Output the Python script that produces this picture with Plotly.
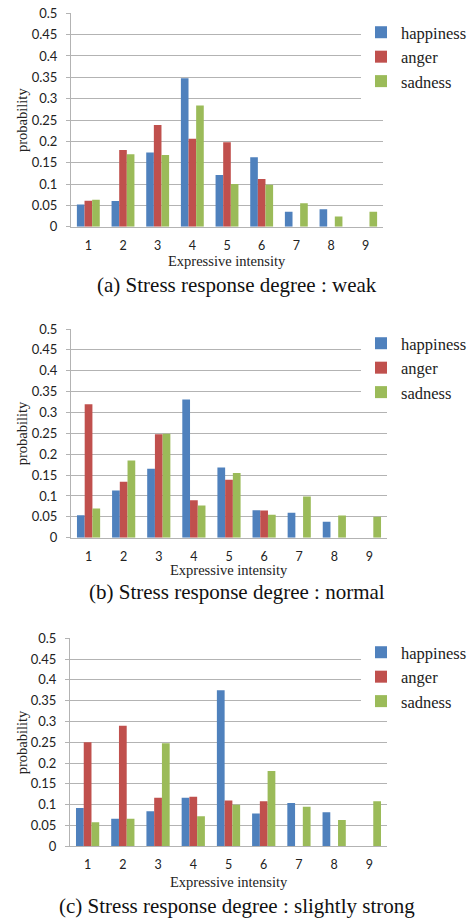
import plotly.graph_objects as go

W, H = 471, 919

intensity = ["1", "2", "3", "4", "5", "6", "7", "8", "9"]
emotions = ["happiness", "anger", "sadness"]
colors = ["#4F81BD", "#C0504D", "#9BBB59"]

# (a) weak
weak_happiness = [0.052, 0.060, 0.174, 0.348, 0.121, 0.163, 0.035, 0.041, 0]
weak_anger = [0.061, 0.180, 0.238, 0.206, 0.198, 0.112, 0, 0, 0]
weak_sadness = [0.063, 0.170, 0.168, 0.284, 0.100, 0.098, 0.055, 0.024, 0.035]

# (b) normal
normal_happiness = [0.054, 0.113, 0.165, 0.331, 0.168, 0.066, 0.060, 0.038, 0]
normal_anger = [0.320, 0.134, 0.248, 0.090, 0.139, 0.065, 0, 0, 0]
normal_sadness = [0.070, 0.185, 0.249, 0.077, 0.155, 0.055, 0.099, 0.053, 0.050]

# (c) slightly strong
strong_happiness = [0.092, 0.066, 0.084, 0.117, 0.375, 0.079, 0.104, 0.082, 0]
strong_anger = [0.250, 0.290, 0.117, 0.119, 0.110, 0.108, 0, 0, 0]
strong_sadness = [0.058, 0.066, 0.248, 0.072, 0.100, 0.181, 0.095, 0.063, 0.108]

yticks = [0, 0.05, 0.1, 0.15, 0.2, 0.25, 0.3, 0.35, 0.4, 0.45, 0.5]
ytick_text = ["0", "0.05", "0.1", "0.15", "0.2", "0.25", "0.3", "0.35", "0.4", "0.45", "0.5"]

captions = [
    "(a) Stress response degree : weak",
    "(b) Stress response degree : normal",
    "(c) Stress response degree : slightly strong",
]

panels = [
    (weak_happiness, weak_anger, weak_sadness),
    (normal_happiness, normal_anger, normal_sadness),
    (strong_happiness, strong_anger, strong_sadness),
]

# plot areas in pixels: (left, right, top, bottom)
boxes = [
    (71, 383, 13.3, 226.7),
    (71, 387, 329, 537.7),
    (70, 387, 638.3, 846.3),
]
xtitle_y = [261, 570, 882]
caption_y = [285, 592, 906]
legend_top = [15, 326, 635]

SERIF = "Liberation Serif, Times New Roman, serif"
SANS = "Lato, Open Sans, sans-serif"
GRID = "#b3b3b3"

fig = go.Figure()
layout = {}
annotations = []

for i, (series, box) in enumerate(zip(panels, boxes)):
    n = "" if i == 0 else str(i + 1)
    left, right, top, bottom = box
    for name, vals, col in zip(emotions, series, colors):
        fig.add_trace(go.Bar(
            x=intensity, y=vals, name=name,
            marker=dict(color=col, line=dict(width=0)),
            xaxis="x" + n, yaxis="y" + n,
            legend="legend" + n,
        ))
    layout["xaxis" + n] = dict(
        domain=[left / W, right / W], anchor="y" + n,
        showline=True, linecolor=GRID, ticks="", showgrid=False,
        ticklabelstandoff=7,
        tickfont=dict(family=SANS, size=12.5, color="#222"),
        fixedrange=True,
    )
    layout["yaxis" + n] = dict(
        domain=[1 - bottom / H, 1 - top / H], anchor="x" + n,
        range=[0, 0.5], tickvals=yticks, ticktext=ytick_text,
        showline=True, linecolor=GRID, ticks="outside", ticklen=4,
        tickcolor=GRID, showgrid=True, gridcolor=GRID, zeroline=False,
        ticklabelstandoff=6,
        tickfont=dict(family=SANS, size=13, color="#222"),
        fixedrange=True,
    )
    layout["legend" + n] = dict(
        x=361 / W, y=1 - legend_top[i] / H, xanchor="left", yanchor="top",
        bgcolor="white", font=dict(family=SERIF, size=16.5, color="#222"),
        itemwidth=30, tracegroupgap=0,
    )
    annotations.append(dict(
        text="probability", textangle=-90, x=22 / W, y=1 - (top + bottom) / 2 / H,
        xref="paper", yref="paper", showarrow=False,
        xanchor="center", yanchor="middle",
        font=dict(family=SERIF, size=14.5, color="#222"),
    ))
    annotations.append(dict(
        text="Expressive intensity", x=(left + right) / 2 / W, y=1 - xtitle_y[i] / H,
        xref="paper", yref="paper", showarrow=False,
        xanchor="center", yanchor="middle",
        font=dict(family=SERIF, size=14.5, color="#222"),
    ))
    annotations.append(dict(
        text=captions[i], x=237 / W, y=1 - caption_y[i] / H,
        xref="paper", yref="paper", showarrow=False,
        xanchor="center", yanchor="middle",
        font=dict(family=SERIF, size=21, color="#111"),
    ))

fig.update_layout(
    width=W, height=H,
    margin=dict(l=0, r=0, t=0, b=0, autoexpand=False),
    paper_bgcolor="white", plot_bgcolor="white",
    barmode="group", bargap=0.34, bargroupgap=0,
    annotations=annotations,
    **layout,
)

# drop the browser's default body margin so the figure fills the window
fig.write_html("out.html", config={"displayModeBar": False},
               post_script="document.body.style.margin='0';")
